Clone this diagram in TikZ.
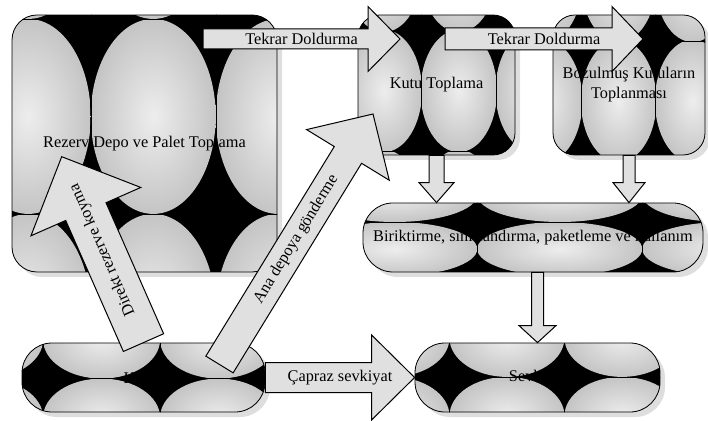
\documentclass[tikz,border=0pt]{standalone}
\usepackage{fontspec}
\setmainfont{Liberation Serif}
\usetikzlibrary{calc,shadows}

\definecolor{tilelight}{rgb}{0.93,0.93,0.93}
\definecolor{tiledark}{rgb}{0.77,0.77,0.77}
\definecolor{arrowfill}{rgb}{0.88,0.88,0.88}
\definecolor{boxshadow}{rgb}{0.87,0.87,0.87}

% black ground, cells with a shaded ellipse each
% (grid corner x, y relative to the node centre, cell w, cell h, ellipse scale)
\newcommand\tilefill[5]{%
  \begin{scope}[sharp corners]
  \fill[black] (path picture bounding box.south west) rectangle (path picture bounding box.north east);
  \foreach \i in {-2,...,2}{%
    \foreach \j in {-2,...,1}{%
      \begin{scope}
        \clip ({#1+\i*#3},{#2+\j*#4}) rectangle ++(#3,#4);
        \shade[inner color=tilelight,outer color=tiledark]
          ({#1+(\i+0.5)*#3},{#2+(\j+0.5)*#4}) ellipse [x radius={#5*#3/2}, y radius={#5*#4/2}];
      \end{scope}
      \draw[black,line width=0.4pt] ({#1+\i*#3},{#2+\j*#4}) rectangle ++(#3,#4);
    }}%
  \end{scope}
}

% block arrow from tail to tip (shaft half width, head half width, head length, label)
\newcommand\blockarrow[6]{%
  \coordinate (#1-base) at ($(#2)!#5!(#1)$);
  \draw[blockarr] ($(#1)!#3!90:(#2)$) -- ($(#1-base)!#3!-90:(#1)$) -- ($(#1-base)!#4!-90:(#1)$) -- (#2)
    -- ($(#1-base)!#4!90:(#1)$) -- ($(#1-base)!#3!90:(#1)$) -- ($(#1)!#3!-90:(#2)$) -- cycle;
  \path let \p1=($(#2)-(#1)$), \n1={atan2(\y1,\x1)} in
    node[arrlabel,rotate=\n1] at ($(#1)!0.5!(#2)$) {#6};
}

\tikzset{
  areabox/.style={draw=black,line width=0.8pt,inner sep=0pt,align=center,
    font=\fontsize{16.3}{20}\selectfont,
    drop shadow={shadow xshift=5pt,shadow yshift=-5pt,fill=boxshadow,opacity=1}},
  blockarr/.style={draw=black,line width=1pt,fill=arrowfill,line join=miter},
  arrlabel/.style={font=\fontsize{16.3}{20}\selectfont,inner sep=0pt}
}

\begin{document}
\begin{tikzpicture}[x=1pt,y=1pt]
\useasboundingbox (0,0) rectangle (708,420);

\node[areabox,rounded corners=25pt,minimum width=265pt,minimum height=257pt,
  path picture={\tilefill{-77.5}{128.5}{125}{195}{1}}] (rezerv) at (144.5,276.5) {Rezerv Depo ve Palet Toplama};
\node[areabox,rounded corners=22pt,minimum width=157pt,minimum height=140pt,
  path picture={\tilefill{-43.5}{58}{75}{120}{1.02}}] (kutu) at (436.5,335) {Kutu Toplama};
\node[areabox,rounded corners=22pt,minimum width=152pt,minimum height=140pt,
  path picture={\tilefill{-55}{58}{74}{120}{1.02}}] (bozuk) at (629,335) {Bozulmuş Kutuların\\Toplanması};
\node[areabox,rounded corners=30pt,minimum width=340pt,minimum height=69pt,
  path picture={\tilefill{-61}{19.5}{165}{54}{1}}] (birik) at (533,182.5) {Biriktirme, sınıflandırma, paketleme ve kullanım};
\node[areabox,rounded corners=30pt,minimum width=243pt,minimum height=69pt,
  path picture={\tilefill{-80.5}{4.5}{117}{78}{1}}] (kabul) at (143.5,42.5) {Kabul};
\node[areabox,rounded corners=30pt,minimum width=245pt,minimum height=69pt,
  path picture={\tilefill{-59.5}{4.5}{115}{78}{1}}] (sevk) at (537.5,42.5) {Sevkiyat};

\coordinate (dolum1) at (203,381);
\coordinate (dolum1uc) at (400,381);
\coordinate (dolum2) at (445,381);
\coordinate (dolum2uc) at (643,381);
\coordinate (kutualt) at (kutu.south);
\coordinate (kutuuc) at (kutu.south |- birik.north);
\coordinate (bozukalt) at (bozuk.south);
\coordinate (bozukuc) at (bozuk.south |- birik.north);
\coordinate (birikalt) at (sevk.north |- birik.south);
\coordinate (sevkuc) at (sevk.north);
\coordinate (kabulsag) at (kabul.east);
\coordinate (sevksol) at (sevk.west);
\coordinate (kabulust) at (kabul.north);
\coordinate (rezervuc) at (61.7,263.3);
\coordinate (anakuyruk) at (219.5,55.5);
\coordinate (anauc) at (373,306);

\blockarrow{dolum1}{dolum1uc}{10pt}{32.5pt}{32pt}{Tekrar Doldurma}
\blockarrow{dolum2}{dolum2uc}{11pt}{32.5pt}{31pt}{Tekrar Doldurma}
\blockarrow{kutualt}{kutuuc}{7.5pt}{17.5pt}{20pt}{}
\blockarrow{bozukalt}{bozukuc}{6pt}{16pt}{20pt}{}
\blockarrow{birikalt}{sevkuc}{6pt}{18.5pt}{17pt}{}
\blockarrow{kabulsag}{sevksol}{15pt}{42.5pt}{43pt}{Çapraz sevkiyat}
\blockarrow{kabulust}{rezervuc}{22pt}{60pt}{60pt}{Direkt rezerve koyma}
\blockarrow{anakuyruk}{anauc}{16pt}{48.5pt}{48pt}{Ana depoya gönderme}
\end{tikzpicture}
\end{document}
